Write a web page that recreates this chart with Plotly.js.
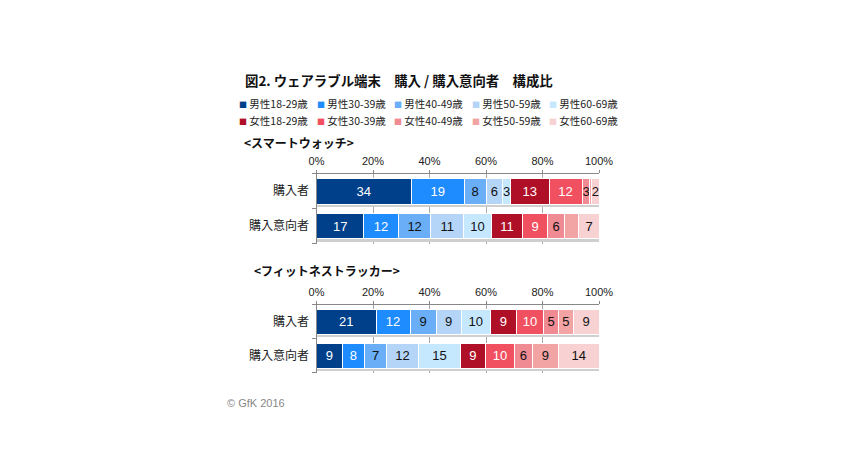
<!DOCTYPE html>
<html>
<head>
<meta charset="utf-8">
<script src="https://cdn.plot.ly/plotly-3.0.1.min.js"></script>
<style>body{margin:0;background:#fff}#chart{width:850px;height:470px}</style>
</head>
<body>
<div id="chart"></div>
<script>
// age/sex groups and their colours
const groups = ['男性18-29歳', '男性30-39歳', '男性40-49歳', '男性50-59歳', '男性60-69歳',
                '女性18-29歳', '女性30-39歳', '女性40-49歳', '女性50-59歳', '女性60-69歳'];
const colors = ['#00408a', '#1e8cff', '#6aaef8', '#b4d4f8', '#c6e8ff',
                '#b01027', '#f0505f', '#f08a93', '#f2a4a4', '#f8d2d2'];
const rows = ['購入者', '購入意向者'];

// smartwatch
const watchBuyers = [33.5, 18.8, 7.7, 5.9, 2.8, 13.6, 11.7, 2.8, 0.7, 2.5];
const watchBuyersLbl = ['34', '19', '8', '6', '3', '13', '12', '3', '', '2'];
const watchIntenders = [16.8, 12.2, 11.6, 11.5, 10.0, 10.9, 9.0, 5.9, 5.2, 7.1];
const watchIntendersLbl = ['17', '12', '12', '11', '10', '11', '9', '6', '', '7'];

// fitness tracker
const fitBuyers = [21.1, 12.0, 9.2, 8.9, 10.3, 9.2, 9.8, 5.1, 5.3, 9.1];
const fitBuyersLbl = ['21', '12', '9', '9', '10', '9', '10', '5', '5', '9'];
const fitIntenders = [9.1, 8.0, 7.6, 11.6, 14.6, 9.0, 10.2, 6.4, 9.2, 14.4];
const fitIntendersLbl = ['9', '8', '7', '12', '15', '9', '10', '6', '9', '14'];

const xTicks = [0, 20, 40, 60, 80, 100];
const darkIdx = [0, 1, 5, 6];
const jp = '"Noto Sans CJK JP", "Noto Sans", sans-serif';
const num = '"Liberation Sans", Arial, sans-serif';
const rowPos = rows.map((r, i) => i);

const traces = [];
function addSeries(buy, buyLbl, want, wantLbl, xa, ya) {
  // soft drop shadow under each bar
  traces.push({
    type: 'bar', orientation: 'h', x: rows.map(() => 100), y: rowPos.map(p => p + 0.08),
    width: 0.74, marker: {color: '#cfcfcf', line: {width: 0}},
    xaxis: xa, yaxis: ya, showlegend: false, hoverinfo: 'skip'
  });
  groups.forEach((g, i) => {
    traces.push({
      type: 'bar', orientation: 'h', name: g,
      x: [buy[i], want[i]], y: rowPos,
      text: [buyLbl[i], wantLbl[i]],
      textposition: 'inside', insidetextanchor: 'middle',
      textfont: {family: num, size: 13, color: darkIdx.includes(i) ? '#fff' : '#111'},
      marker: {color: colors[i], line: {color: '#fff', width: 1}},
      width: 0.74, xaxis: xa, yaxis: ya, showlegend: false, hoverinfo: 'name+x'
    });
  });
}
addSeries(watchBuyers, watchBuyersLbl, watchIntenders, watchIntendersLbl, 'x', 'y');
addSeries(fitBuyers, fitBuyersLbl, fitIntenders, fitIntendersLbl, 'x2', 'y2');

const xBase = {
  range: [0, 100], side: 'top', tickvals: xTicks, ticktext: xTicks.map(v => v + '%'),
  ticks: 'outside', ticklen: 3, tickcolor: '#888', showgrid: true, gridcolor: '#aaa',
  showline: true, linecolor: '#888', zeroline: false,
  tickfont: {family: num, size: 11, color: '#222'}, fixedrange: true
};
const yBase = {
  range: [1.5, -0.5], tickvals: rowPos, ticktext: rows, ticks: '',
  showline: true, linecolor: '#888', showgrid: false, zeroline: false, ticklabelstandoff: 4,
  minor: {tickvals: [-0.5, 0.5, 1.5], ticks: 'outside', ticklen: 4, tickcolor: '#888', showgrid: false},
  tickfont: {family: jp, size: 12, color: '#222'}, fixedrange: true
};

const annotations = [
  {text: '<b>図2. ウェアラブル端末　購入 / 購入意向者　構成比</b>', x: 243, y: 80, xanchor: 'left',
   font: {family: jp, size: 13.4, color: '#111'}},
  {text: '<b>&lt;スマートウォッチ&gt;</b>', x: 242, y: 143, xanchor: 'left',
   font: {family: jp, size: 12, color: '#111'}},
  {text: '<b>&lt;フィットネストラッカー&gt;</b>', x: 252, y: 270, xanchor: 'left',
   font: {family: jp, size: 12, color: '#111'}},
  {text: '© GfK 2016', x: 225, y: 403, xanchor: 'left',
   font: {family: num, size: 11, color: '#888'}}
];
groups.forEach((g, i) => {
  annotations.push({
    text: `<span style="color:${colors[i]};font-size:8px">■</span> ${g}`,
    x: 237 + (i % 5) * 77.5, y: i < 5 ? 103 : 121, xanchor: 'left',
    font: {family: jp, size: 10.5, color: '#222'}
  });
});
annotations.forEach(a => {
  a.xref = 'paper'; a.yref = 'paper'; a.showarrow = false; a.yanchor = 'middle';
  a.x = a.x / 850; a.y = 1 - a.y / 470;
});

const layout = {
  width: 850, height: 470, margin: {l: 0, r: 0, t: 0, b: 0},
  paper_bgcolor: '#fff', plot_bgcolor: '#fff',
  barmode: 'stack', barnorm: 'percent',
  uniformtext: {mode: 'show', minsize: 13},
  xaxis: Object.assign({}, xBase, {domain: [316.5 / 850, 599 / 850], anchor: 'y'}),
  yaxis: Object.assign({}, yBase, {domain: [1 - 243.5 / 470, 1 - 173.8 / 470], anchor: 'x'}),
  xaxis2: Object.assign({}, xBase, {domain: [316.5 / 850, 599 / 850], anchor: 'y2'}),
  yaxis2: Object.assign({}, yBase, {domain: [1 - 372.8 / 470, 1 - 304.8 / 470], anchor: 'x2'}),
  annotations: annotations
};

Plotly.newPlot('chart', traces, layout, {displayModeBar: false, staticPlot: true});
</script>
</body>
</html>
